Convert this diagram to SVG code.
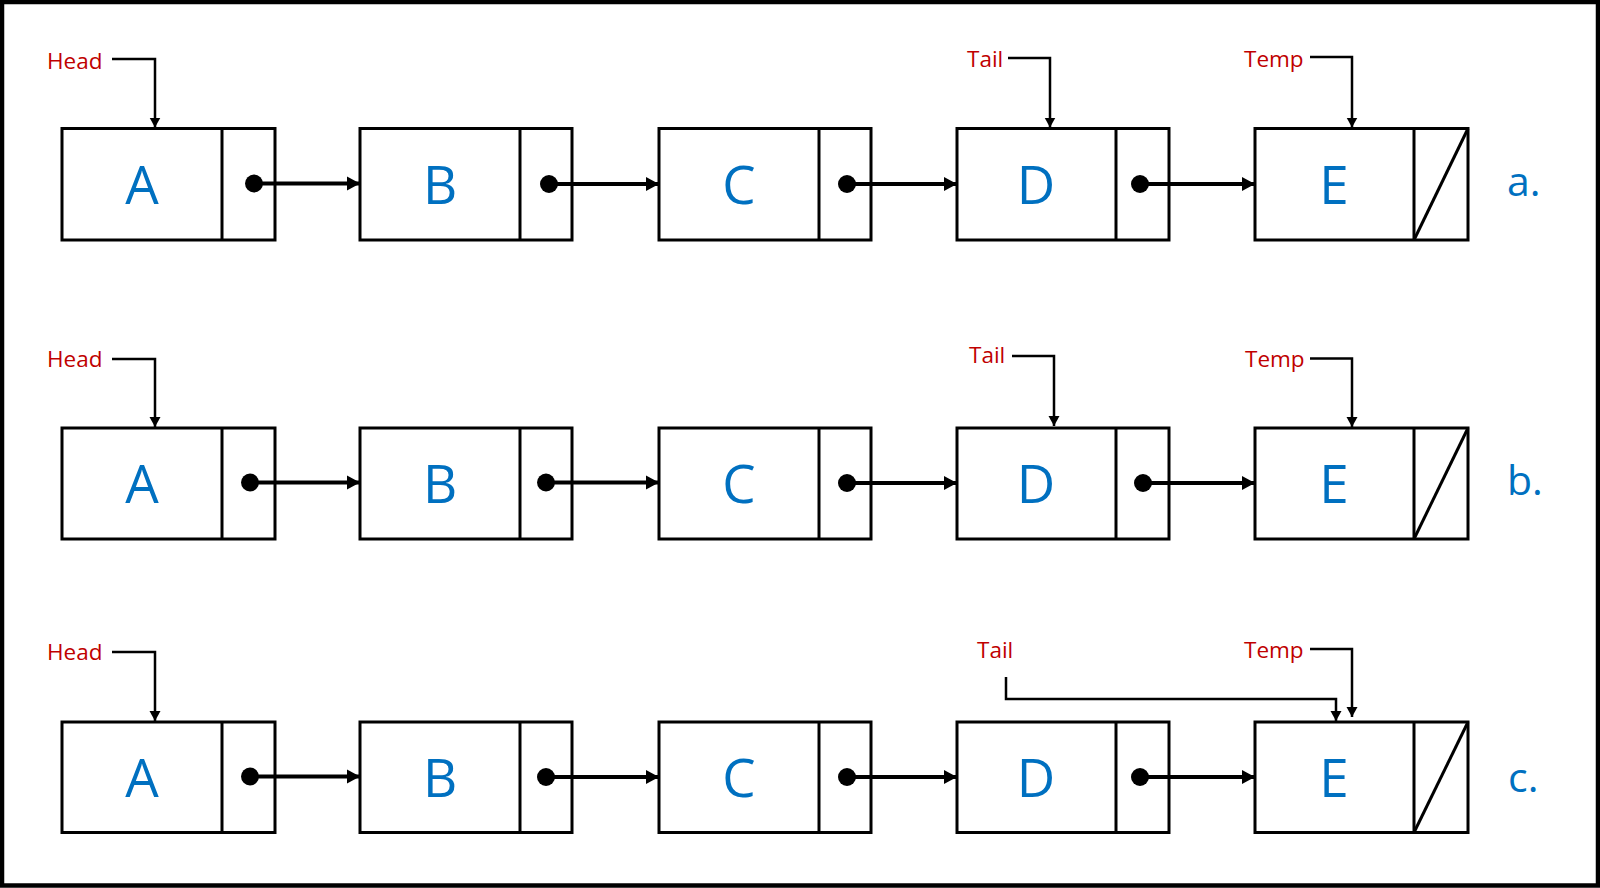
<svg xmlns="http://www.w3.org/2000/svg" width="1600" height="888" viewBox="0 0 1600 888">
<defs>
<style>
.box{fill:#fff;stroke:#000;stroke-width:3}
.div{stroke:#000;stroke-width:3;fill:none}
.val{font-family:"Open Sans","Noto Sans","Liberation Sans",sans-serif;font-size:53px;fill:#0070C0;text-anchor:middle}
.lbl{font-family:"Open Sans","Noto Sans","Liberation Sans",sans-serif;font-size:41px;fill:#0070C0}
.ptr{font-family:"Open Sans","Noto Sans","Liberation Sans",sans-serif;font-size:22.5px;fill:#C00000}
.link{stroke:#000;stroke-width:4.2;fill:none;marker-end:url(#ah)}
.pl{stroke:#000;stroke-width:2.5;fill:none;marker-end:url(#ph)}
</style>
<marker id="ah" markerUnits="userSpaceOnUse" markerWidth="14" markerHeight="16" refX="13" refY="7" orient="auto" viewBox="0 0 14 14">
<path d="M0,0 L13,7 L0,14 Z" fill="#000"/>
</marker>
<marker id="ph" markerUnits="userSpaceOnUse" markerWidth="11" markerHeight="12" refX="10" refY="5.5" orient="auto" viewBox="0 0 11 11">
<path d="M0,0 L10,5.5 L0,11 Z" fill="#000"/>
</marker>
</defs>
<rect x="2" y="2" width="1596" height="883.5" fill="#fff" stroke="#000" stroke-width="4.5"/>

<!-- Row a -->
<g id="a-A"><rect class="box" x="62" y="128.5" width="213" height="111.5"/><line class="div" x1="222" y1="128.5" x2="222" y2="240"/><text class="val" x="142" y="204">A</text></g>
<g id="a-B"><rect class="box" x="360" y="128.5" width="212" height="111.5"/><line class="div" x1="520" y1="128.5" x2="520" y2="240"/><text class="val" x="440" y="204">B</text></g>
<g id="a-C"><rect class="box" x="659" y="128.5" width="212" height="111.5"/><line class="div" x1="819" y1="128.5" x2="819" y2="240"/><text class="val" x="739" y="204">C</text></g>
<g id="a-D"><rect class="box" x="957" y="128.5" width="212" height="111.5"/><line class="div" x1="1116" y1="128.5" x2="1116" y2="240"/><text class="val" x="1036" y="204">D</text></g>
<g id="a-E"><rect class="box" x="1255" y="128.5" width="213" height="111.5"/><line class="div" x1="1414" y1="128.5" x2="1414" y2="240"/><line class="div" x1="1414" y1="240" x2="1468" y2="128.5"/><text class="val" x="1334" y="204">E</text></g>
<text class="lbl" x="1507" y="196">a.</text>
<g id="a-head"><text class="ptr" x="47" y="69">Head</text></g>
<g id="a-tail"><text class="ptr" x="967" y="67">Tail</text></g>
<g id="a-temp"><text class="ptr" x="1244" y="67">Temp</text></g>

<!-- Row b -->
<g id="b-A"><rect class="box" x="62" y="428" width="213" height="111"/><line class="div" x1="222" y1="428" x2="222" y2="539"/><text class="val" x="142" y="503">A</text></g>
<g id="b-B"><rect class="box" x="360" y="428" width="212" height="111"/><line class="div" x1="520" y1="428" x2="520" y2="539"/><text class="val" x="440" y="503">B</text></g>
<g id="b-C"><rect class="box" x="659" y="428" width="212" height="111"/><line class="div" x1="819" y1="428" x2="819" y2="539"/><text class="val" x="739" y="503">C</text></g>
<g id="b-D"><rect class="box" x="957" y="428" width="212" height="111"/><line class="div" x1="1116" y1="428" x2="1116" y2="539"/><text class="val" x="1036" y="503">D</text></g>
<g id="b-E"><rect class="box" x="1255" y="428" width="213" height="111"/><line class="div" x1="1414" y1="428" x2="1414" y2="539"/><line class="div" x1="1414" y1="539" x2="1468" y2="428"/><text class="val" x="1334" y="503">E</text></g>
<text class="lbl" x="1507" y="495">b.</text>
<g id="b-head"><text class="ptr" x="47" y="367">Head</text></g>
<g id="b-tail"><text class="ptr" x="969" y="363">Tail</text></g>
<g id="b-temp"><text class="ptr" x="1245" y="367">Temp</text></g>

<!-- Row c -->
<g id="c-A"><rect class="box" x="62" y="722" width="213" height="110.5"/><line class="div" x1="222" y1="722" x2="222" y2="832.5"/><text class="val" x="142" y="797">A</text></g>
<g id="c-B"><rect class="box" x="360" y="722" width="212" height="110.5"/><line class="div" x1="520" y1="722" x2="520" y2="832.5"/><text class="val" x="440" y="797">B</text></g>
<g id="c-C"><rect class="box" x="659" y="722" width="212" height="110.5"/><line class="div" x1="819" y1="722" x2="819" y2="832.5"/><text class="val" x="739" y="797">C</text></g>
<g id="c-D"><rect class="box" x="957" y="722" width="212" height="110.5"/><line class="div" x1="1116" y1="722" x2="1116" y2="832.5"/><text class="val" x="1036" y="797">D</text></g>
<g id="c-E"><rect class="box" x="1255" y="722" width="213" height="110.5"/><line class="div" x1="1414" y1="722" x2="1414" y2="832.5"/><line class="div" x1="1414" y1="832.5" x2="1468" y2="722"/><text class="val" x="1334" y="797">E</text></g>
<text class="lbl" x="1508" y="792">c.</text>
<g id="c-head"><text class="ptr" x="47" y="660">Head</text></g>
<g id="c-tail"><text class="ptr" x="977" y="658">Tail</text></g>
<g id="c-temp"><text class="ptr" x="1244" y="658">Temp</text></g>

<g id="connectors">
<!-- row a links -->
<circle cx="254" cy="183.5" r="9"/><line class="link" x1="254" y1="183.5" x2="360" y2="183.5"/>
<circle cx="549" cy="184" r="9"/><line class="link" x1="549" y1="184" x2="659" y2="184"/>
<circle cx="847" cy="184" r="9"/><line class="link" x1="847" y1="184" x2="957" y2="184"/>
<circle cx="1140" cy="184" r="9"/><line class="link" x1="1140" y1="184" x2="1255" y2="184"/>
<!-- row b links -->
<circle cx="250" cy="482.5" r="9"/><line class="link" x1="250" y1="482.5" x2="360" y2="482.5"/>
<circle cx="546" cy="482.5" r="9"/><line class="link" x1="546" y1="482.5" x2="659" y2="482.5"/>
<circle cx="847" cy="483" r="9"/><line class="link" x1="847" y1="483" x2="957" y2="483"/>
<circle cx="1143" cy="483" r="9"/><line class="link" x1="1143" y1="483" x2="1255" y2="483"/>
<!-- row c links -->
<circle cx="250" cy="776.5" r="9"/><line class="link" x1="250" y1="776.5" x2="360" y2="776.5"/>
<circle cx="546" cy="777" r="9"/><line class="link" x1="546" y1="777" x2="659" y2="777"/>
<circle cx="847" cy="777" r="9"/><line class="link" x1="847" y1="777" x2="957" y2="777"/>
<circle cx="1140" cy="777" r="9"/><line class="link" x1="1140" y1="777" x2="1255" y2="777"/>
<!-- pointers -->
<polyline class="pl" points="112,59 155,59 155,127.5"/>
<polyline class="pl" points="1008,58 1050,58 1050,127.5"/>
<polyline class="pl" points="1310,57 1352,57 1352,127.5"/>
<polyline class="pl" points="112,359 155,359 155,427"/>
<polyline class="pl" points="1012,356 1054,356 1054,426"/>
<polyline class="pl" points="1310,358.5 1352,358.5 1352,427"/>
<polyline class="pl" points="112,652 155,652 155,721"/>
<polyline class="pl" points="1006,677 1006,699 1336,699 1336,721"/>
<polyline class="pl" points="1310,649 1352,649 1352,717"/>
</g>
</svg>
